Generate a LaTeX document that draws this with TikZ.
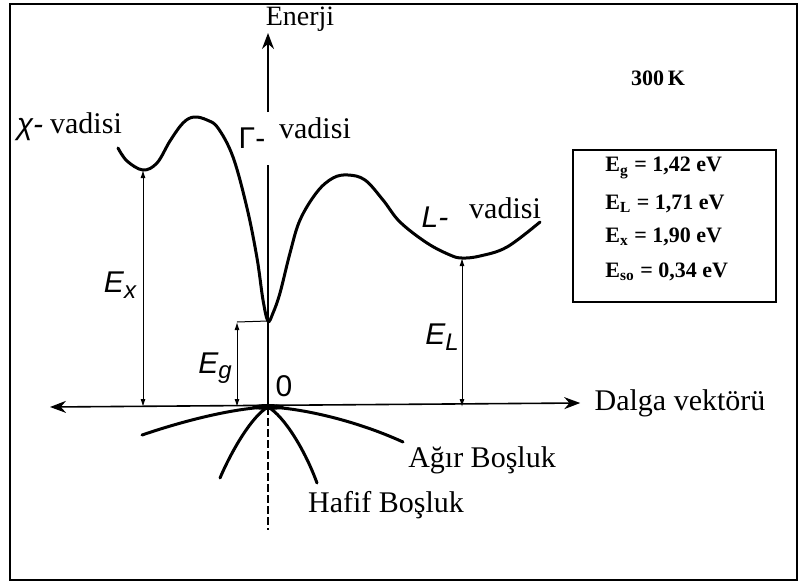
\documentclass[tikz,border=0pt]{standalone}
\usepackage{fontspec}
\setmainfont{Liberation Serif}
\newfontfamily\signfont{Liberation Sans}
\usetikzlibrary{arrows.meta}

\begin{document}
\begin{tikzpicture}[
    x=0.5pt, y=-0.5pt, % pixel grid, y downwards
    >=Stealth, % default arrow tip
    axis/.style={line width=0.8pt, >={Stealth[length=8pt,width=6pt]}}, % axes
    band/.style={line width=1.5pt, line cap=round}, % band curves
    gap/.style={<->, line width=0.5pt, >={Latex[length=4pt,width=2.5pt]}}, % energy gaps
    txt/.style={font=\fontsize{15}{18}\selectfont, inner sep=0pt}, % serif labels
    sign/.style={font=\signfont\itshape\fontsize{15}{18}\selectfont, inner sep=0pt}, % symbols
    val/.style={font=\bfseries\fontsize{11}{13}\selectfont, inner sep=0pt, anchor=west} % box entries
]
    \useasboundingbox (0,0) rectangle (801,583);

    % Frame
    \draw[line width=1.2pt] (10,4) rectangle (797,580);

    % Points
    \coordinate (O) at (268,407);
    \coordinate (Xmin) at (143,170);
    \coordinate (Gmin) at (268,321);
    \coordinate (Lmin) at (462,258);
    \coordinate (gtick) at (237,322);
    \coordinate (kleft) at (50,407);
    \coordinate (ytop) at (268,33);
    \coordinate (ybrk1) at (268,112);
    \coordinate (ybrk2) at (268,165);
    \coordinate (ybot) at (268,530);

    % Axes
    \node[txt] (dalga) at (680,403) {Dalga vektörü};
    \node[txt, font=\fontsize{14}{17}\selectfont] (enerji) at (300,19) {Enerji};
    \draw[axis,<->] (kleft) -- ([xshift=-7pt]dalga.west);
    \draw[axis,->] (ybrk1) -- (ytop);
    \draw[axis] (ybrk2) -- (O);
    \draw[line width=0.6pt, dash pattern=on 4pt off 1.5pt] (O) -- (ybot);
    \node[sign, font=\signfont\fontsize{15}{18}\selectfont] (zero) at (284,386) {0};

    % Conduction band
    \draw[band] plot [smooth, tension=0.6] coordinates {
        (118,148) (127,161) (143,170) (157,163) (170,141) (183,123)
        (194,117) (207,120) (218,128) (233,157) (247,208) (257,258)
        (263,300) (Gmin) (273,313) (280,293) (290,253) (300,220)
        (317,192) (333,178) (348,175) (365,180) (383,200) (400,222)
        (427,243) (450,255) (Lmin) (480,256) (507,247) (540,222)
    };

    % Valence bands
    \draw[band] (142,435) .. controls (195,417) and (240,408) .. (O)
        .. controls (300,408) and (355,420) .. (403,442);
    \draw[band] (220,478) .. controls (232,450) and (252,416) .. (O)
        .. controls (284,416) and (305,450) .. (317,483);
    \fill (O) ellipse [x radius=16, y radius=3];

    % Gaps
    \draw[line width=0.5pt] (gtick) -- (Gmin);
    \draw[gap] (Xmin) -- (Xmin |- O);
    \draw[gap] (gtick) -- (gtick |- O);
    \draw[gap] (Lmin) -- (Lmin |- O);
    \node[sign] (ex) at (120,285) {E\raisebox{-0.35ex}{\fontsize{12}{12}\selectfont x}};
    \node[sign] (eg) at (215,368) {E\raisebox{-0.35ex}{\fontsize{12}{12}\selectfont g}};
    \node[sign] (el) at (442,337) {E\raisebox{-0.35ex}{\fontsize{12}{12}\selectfont L}};

    % Valley labels
    \node[sign] (chi) at (30,130) {χ-};
    \node[txt] (xvad) at (86,123) {vadisi};
    \node[sign, font=\signfont\fontsize{15}{18}\selectfont] (gam) at (252,138) {Γ-};
    \node[txt] (gvad) at (315,128) {vadisi};
    \node[sign] (lsym) at (435,217) {L-};
    \node[txt] (lvad) at (505,208) {vadisi};

    % Hole bands
    \node[txt] (agir) at (482,460) {Ağır Boşluk};
    \node[txt] (hafif) at (386,505) {Hafif Boşluk};

    % Temperature and values
    \node[font=\bfseries\fontsize{11}{13}\selectfont, inner sep=0pt] (temp) at (658,78) {300\,K};
    \draw[line width=0.8pt] (573,150) rectangle (776,302);
    \node[val] (vg) at (605,168) {E\textsubscript{g} = 1,42 eV};
    \node[val] (vl) at (605,204) {E\textsubscript{L} = 1,71 eV};
    \node[val] (vx) at (605,237) {E\textsubscript{x} = 1,90 eV};
    \node[val] (vso) at (605,272) {E\textsubscript{so} = 0,34 eV};

\end{tikzpicture}
\end{document}
